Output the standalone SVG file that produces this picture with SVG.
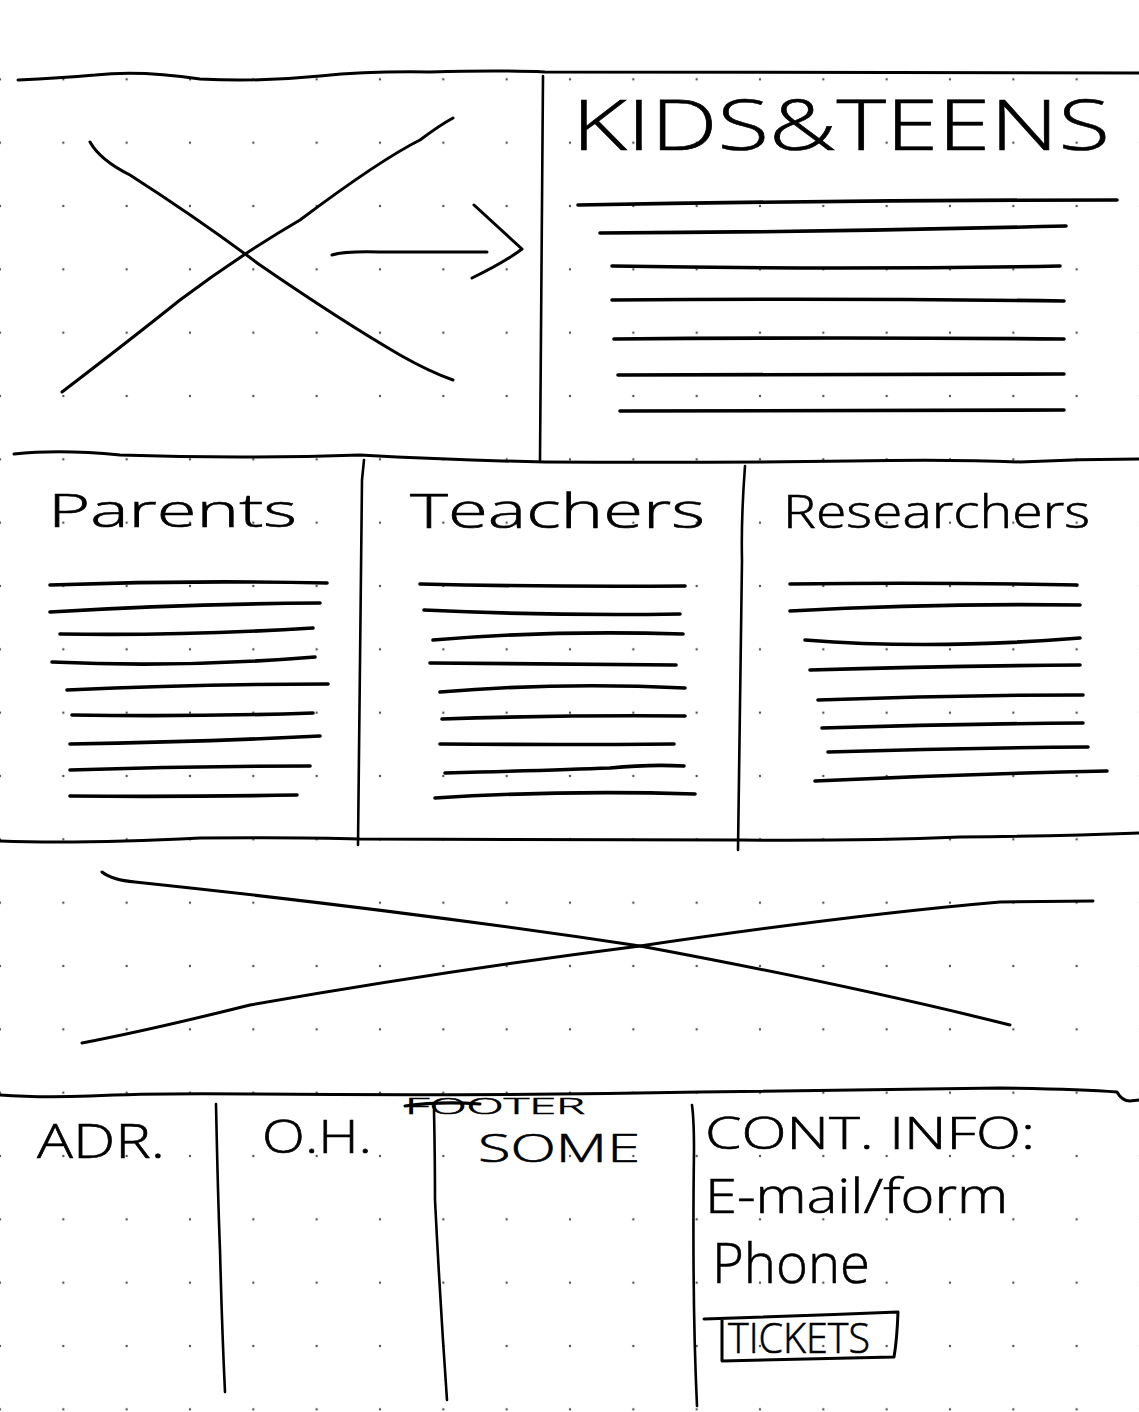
<svg xmlns="http://www.w3.org/2000/svg" width="1139" height="1412" viewBox="0 0 1139 1412">
  <defs>
    <!-- dotted notebook grid -->
    <pattern id="dots" patternUnits="userSpaceOnUse" x="-31.667" y="-15.667" width="63.333" height="63.333">
      <circle cx="31.667" cy="31.667" r="1.2" fill="#555"/>
    </pattern>
    <style>
      .ink { fill: none; stroke: #000; stroke-linecap: round; stroke-linejoin: round; }
      .frame { stroke-width: 3; }
      .div { stroke-width: 2.6; }
      .cross { stroke-width: 3; }
      .txtline { stroke-width: 3.6; }
      .hand { font-family: "Open Sans", "Liberation Sans", "DejaVu Sans", sans-serif; font-weight: 300; fill: #000; stroke: #000; stroke-width: 0.6; }
    </style>
  </defs>

  <rect width="1139" height="1412" fill="#fff"/>
  <rect y="60" width="1139" height="1352" fill="url(#dots)"/>

  <!-- section frame lines -->
  <g id="frame" class="ink">
    <path class="frame" d="M18,80 Q60,78 95,75 Q140,70 200,79 Q260,82 320,76 Q370,71 430,72 Q500,70 545,72 L1139,73"/>
    <path class="div" d="M543,76 Q541,260 540,460"/>
    <path class="frame" d="M14,454 Q60,449 120,455 Q240,459 360,455 Q450,460 545,462 Q700,463 850,461 Q950,459 1020,462 Q1080,459 1139,459"/>
    <path class="frame" d="M0,841 Q80,844 200,838 Q300,837 360,839 L740,840 Q860,841 960,837 Q1060,836 1139,833"/>
    <path class="frame" d="M0,1095 Q40,1098 90,1096 Q150,1093 250,1094 Q500,1096 700,1092 Q860,1090 1000,1088 Q1080,1089 1117,1092 Q1122,1101 1130,1101 L1139,1100"/>
    <!-- column dividers -->
    <path class="div" d="M364,460 Q363,470 362,480 Q360,650 358,845"/>
    <path class="div" d="M745,466 Q741,520 742,560 Q740,700 738,850"/>
    <path class="div" d="M216,1104 Q218,1200 220,1250 Q222,1330 225,1392"/>
    <path class="div" d="M434,1110 Q435,1160 435,1200 Q440,1300 447,1400"/>
    <path class="div" d="M692,1105 Q694,1120 694,1150 Q692,1300 697,1406"/>
  </g>

  <!-- hero image placeholder -->
  <g id="hero-image" class="ink cross">
    <path d="M90,142 Q100,160 130,175 Q200,220 260,265 Q340,320 400,355 Q430,372 453,380"/>
    <path d="M62,392 Q130,340 180,300 Q240,255 300,220 Q380,160 420,140 Q440,125 453,118"/>
  </g>

  <!-- arrow from hero image to Kids & Teens -->
  <g id="connectors" class="ink cross">
    <path d="M332,255 Q345,251 380,252 L487,252"/>
    <path d="M474,205 L522,249 Q505,262 472,278"/>
  </g>

  <!-- Kids & Teens -->
  <g id="kids-teens">
    <text class="hand" x="572" y="150" font-size="70" textLength="538" lengthAdjust="spacingAndGlyphs">KIDS&amp;TEENS</text>
    <g class="ink txtline">
      <path d="M578,205 Q850,200 1117,200"/>
      <path d="M600,233 Q830,232 1066,226"/>
      <path d="M612,266 Q840,270 1060,266"/>
      <path d="M612,300 Q840,298 1064,301"/>
      <path d="M614,339 Q840,337 1064,339"/>
      <path d="M618,375 Q840,375 1064,374"/>
      <path d="M620,411 Q840,410 1064,410"/>
    </g>
  </g>

  <!-- Parents -->
  <g id="parents">
    <text class="hand" x="48" y="527" font-size="46" textLength="249" lengthAdjust="spacingAndGlyphs">Parents</text>
    <g class="ink txtline">
      <path d="M50,585 Q190,580 327,583"/>
      <path d="M50,612 Q180,604 320,603"/>
      <path d="M60,634 Q180,636 313,628"/>
      <path d="M52,662 Q180,668 315,657"/>
      <path d="M67,690 Q200,684 328,684"/>
      <path d="M72,715 Q190,717 313,713"/>
      <path d="M70,744 Q200,742 320,736"/>
      <path d="M70,770 Q190,766 310,766"/>
      <path d="M70,796 Q180,797 297,795"/>
    </g>
  </g>

  <!-- Teachers -->
  <g id="teachers">
    <text class="hand" x="410" y="528" font-size="48" textLength="295" lengthAdjust="spacingAndGlyphs">Teachers</text>
    <g class="ink txtline">
      <path d="M420,584 Q550,587 685,586"/>
      <path d="M424,610 Q550,616 680,614"/>
      <path d="M433,640 Q550,630 683,634"/>
      <path d="M430,663 Q550,664 676,665"/>
      <path d="M440,692 Q560,682 685,688"/>
      <path d="M442,719 Q560,715 685,716"/>
      <path d="M440,744 Q560,745 674,744"/>
      <path d="M445,773 Q560,770 610,768 Q650,764 684,766"/>
      <path d="M435,798 Q560,790 695,794"/>
    </g>
  </g>

  <!-- Researchers -->
  <g id="researchers">
    <text class="hand" x="783" y="528" font-size="46" textLength="307" lengthAdjust="spacingAndGlyphs">Researchers</text>
    <g class="ink txtline">
      <path d="M790,584 Q930,582 1077,585"/>
      <path d="M790,611 Q930,603 1080,605"/>
      <path d="M805,640 Q930,650 1080,638"/>
      <path d="M810,670 Q940,666 1080,665"/>
      <path d="M818,700 Q950,695 1083,695"/>
      <path d="M822,728 Q950,724 1083,723"/>
      <path d="M828,752 Q960,748 1088,747"/>
      <path d="M815,781 Q960,774 1107,771"/>
    </g>
  </g>

  <!-- banner image placeholder -->
  <g id="banner-image" class="ink cross">
    <path d="M102,872 Q112,880 135,882 Q400,910 640,946 Q850,985 1010,1025"/>
    <path d="M82,1043 Q150,1030 250,1005 Q450,970 640,946 Q850,915 1000,902 L1093,901"/>
  </g>

  <!-- footer: address -->
  <g id="footer-adr">
    <text class="hand" x="37" y="1158" font-size="48" textLength="128" lengthAdjust="spacingAndGlyphs">ADR.</text>
  </g>

  <!-- footer: opening hours -->
  <g id="footer-oh">
    <text class="hand" x="262" y="1153" font-size="46" textLength="110" lengthAdjust="spacingAndGlyphs">O.H.</text>
  </g>

  <!-- footer: crossed-out FOOTER with SOME below -->
  <g id="footer-some">
    <text class="hand" x="405" y="1114" font-size="22" textLength="180" lengthAdjust="spacingAndGlyphs">FOOTER</text>
    <path class="ink" stroke-width="3" d="M405,1106 Q440,1101 480,1104"/>
    <text class="hand" x="478" y="1162" font-size="38" textLength="162" lengthAdjust="spacingAndGlyphs">SOME</text>
  </g>

  <!-- footer: contact info and tickets button -->
  <g id="footer-contact">
    <text class="hand" x="705" y="1149" font-size="44" textLength="330" lengthAdjust="spacingAndGlyphs">CONT. INFO:</text>
    <text class="hand" x="705" y="1213" font-size="48" textLength="303" lengthAdjust="spacingAndGlyphs">E-mail/form</text>
    <text class="hand" x="712" y="1283" font-size="56" textLength="158" lengthAdjust="spacingAndGlyphs">Phone</text>
    <path class="ink" stroke-width="3" d="M704,1319 Q800,1316 898,1312 Q897,1340 894,1357 Q810,1359 722,1361 L722,1319"/>
    <text class="hand" x="728" y="1353" font-size="42" textLength="142" lengthAdjust="spacingAndGlyphs">TICKETS</text>
  </g>
</svg>
